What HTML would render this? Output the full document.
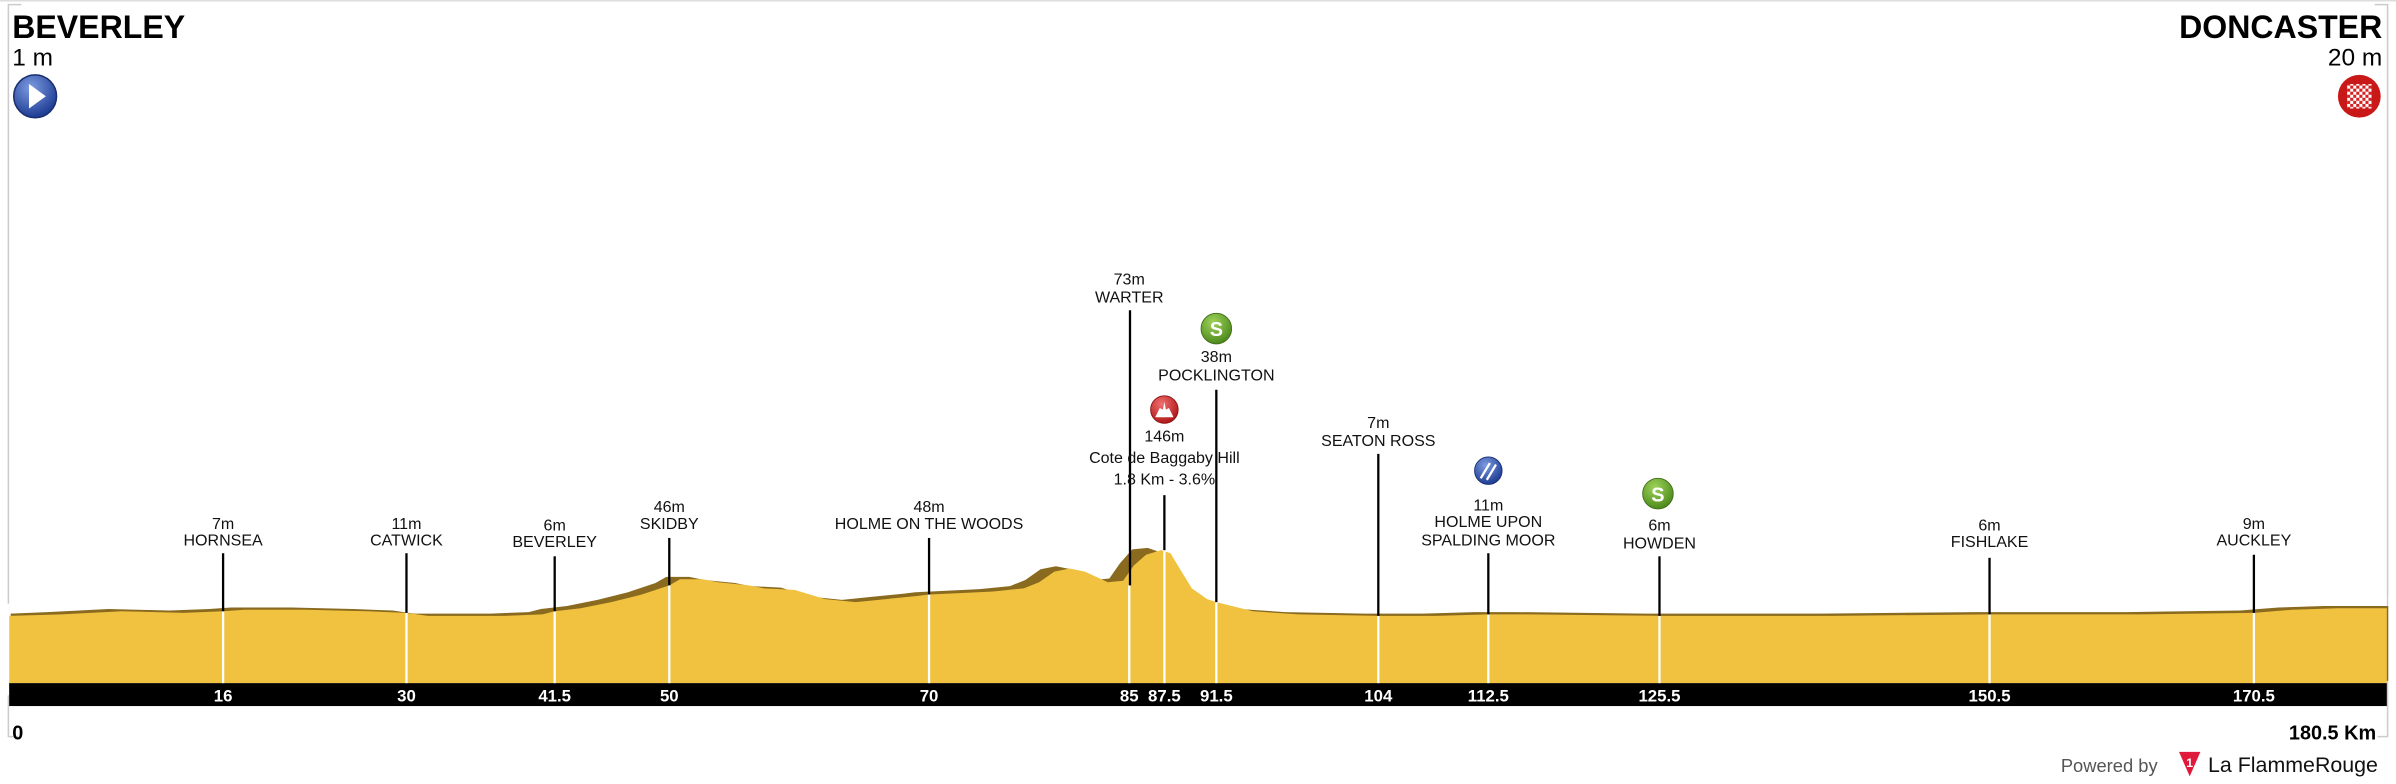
<!DOCTYPE html>
<html><head><meta charset="utf-8"><style>
html,body{margin:0;padding:0;background:#fff;}
svg{display:block;}
text{font-family:"Liberation Sans",sans-serif;}
</style></head><body>
<svg width="2396" height="784" viewBox="0 0 1568 513" preserveAspectRatio="none" xmlns="http://www.w3.org/2000/svg">
<defs>
<radialGradient id="gb" cx="40%" cy="30%" r="70%"><stop offset="0" stop-color="#7d9be0"/><stop offset="1" stop-color="#1d3c93"/></radialGradient>
<radialGradient id="gg" cx="40%" cy="30%" r="70%"><stop offset="0" stop-color="#9fd35a"/><stop offset="1" stop-color="#4d8a1c"/></radialGradient>
<radialGradient id="gr" cx="40%" cy="30%" r="70%"><stop offset="0" stop-color="#f07070"/><stop offset="1" stop-color="#b01818"/></radialGradient>
<pattern id="chk" width="4" height="4" patternUnits="userSpaceOnUse"><rect width="4" height="4" fill="#d42020"/><rect width="2" height="2" fill="#fff"/><rect x="2" y="2" width="2" height="2" fill="#fff"/></pattern>
</defs>
<line x1="0" y1="0.5" x2="1568" y2="0.5" stroke="#ddd" stroke-width="1"/>
<polyline points="14,3 5.5,3 5.5,482 12,482" fill="none" stroke="#ccc" stroke-width="1"/>
<polyline points="1554,3 1562.5,3 1562.5,482 1556,482" fill="none" stroke="#ccc" stroke-width="1"/>
<text x="8" y="25" font-size="21" font-weight="bold">BEVERLEY</text>
<text x="8" y="43" font-size="16">1 m</text>
<circle cx="23" cy="63" r="14" fill="url(#gb)" stroke="#1a2f70" stroke-width="1"/>
<polygon points="19,55 30,63 19,71" fill="#fff"/>
<text x="1559" y="25" font-size="21" font-weight="bold" text-anchor="end">DONCASTER</text>
<text x="1559" y="43" font-size="16" text-anchor="end">20 m</text>
<circle cx="1544" cy="63" r="14" fill="#c81818"/>
<rect x="1536" y="55" width="16" height="16" fill="url(#chk)"/>
<g id="prof">
<polygon transform="translate(-9,-1.5)" fill="#8a6a1e" points="16,403 40,402 80,400 120,401 146,400 160,399 200,399 240,400 266,401 280,403 330,403 355,402 363,400 380,398 400,394 420,389 438,383 445,379 460,379 470,381 490,383 500,385 520,386 540,392 560,394 580,392 600,390 608,389 630,388 650,387 670,385 680,381 690,374 700,372 710,374 725,381 735,380 742,370 750,361 760,360 766,362 772,372 780,385 790,392 796,394 820,400 850,402 902,403 940,403 974,402 1000,402 1086,403 1200,403 1302,402 1400,402 1475,401 1500,399 1530,398 1572,398 1572,447 16,447"/>
<polygon fill="#f0c240" points="6,403 40,402 80,400 120,401 146,400 160,399 200,399 240,400 266,401 280,403 330,403 355,402 363,400 380,398 400,394 420,389 438,383 445,379 460,379 470,381 490,383 500,385 520,386 540,392 560,394 580,392 600,390 608,389 630,388 650,387 670,385 680,381 690,374 700,372 710,374 725,381 735,380 742,370 750,363 760,360 766,362 772,372 780,385 790,392 796,394 820,400 850,402 902,403 940,403 974,402 1000,402 1086,403 1200,403 1302,402 1400,402 1475,401 1500,399 1530,398 1562,398 1562,447 6,447"/>
</g>
<rect x="0" y="395" width="6" height="60" fill="#fff"/>
<rect x="1563" y="390" width="6" height="60" fill="#fff"/>
<rect x="6" y="447" width="1556" height="15" fill="#000"/>
<g fill="#fff" font-size="11" font-weight="bold" text-anchor="middle">
<text x="146" y="459">16</text><text x="266" y="459">30</text><text x="363" y="459">41.5</text><text x="438" y="459">50</text><text x="608" y="459">70</text><text x="739" y="459">85</text><text x="762" y="459">87.5</text><text x="796" y="459">91.5</text><text x="902" y="459">104</text><text x="974" y="459">112.5</text><text x="1086" y="459">125.5</text><text x="1302" y="459">150.5</text><text x="1475" y="459">170.5</text>
</g>
<text x="8" y="484" font-size="13" font-weight="bold">0</text>
<text x="1555" y="484" font-size="13" font-weight="bold" text-anchor="end">180.5 Km</text>
<text x="1412" y="505" font-size="12" fill="#555" text-anchor="end">Powered by</text>
<polygon points="1426,492 1440,492 1433,508" fill="#e0183c"/>
<text x="1433" y="502" font-size="8" font-weight="bold" fill="#fff" text-anchor="middle">1</text>
<text x="1445" y="505" font-size="14" fill="#111">La FlammeRouge</text>
<g stroke="#fff" stroke-width="1.5">
<line x1="146" y1="400" x2="146" y2="447"/><line x1="266" y1="401" x2="266" y2="447"/><line x1="363" y1="400" x2="363" y2="447"/><line x1="438" y1="383" x2="438" y2="447"/><line x1="608" y1="389" x2="608" y2="447"/><line x1="739" y1="383" x2="739" y2="447"/><line x1="762" y1="360" x2="762" y2="447"/><line x1="796" y1="394" x2="796" y2="447"/><line x1="902" y1="403" x2="902" y2="447"/><line x1="974" y1="402" x2="974" y2="447"/><line x1="1086" y1="403" x2="1086" y2="447"/><line x1="1302" y1="402" x2="1302" y2="447"/><line x1="1475" y1="401" x2="1475" y2="447"/>
</g>
<g stroke="#000" stroke-width="1.5">
<line x1="146" y1="362" x2="146" y2="400"/><line x1="266" y1="362" x2="266" y2="401"/><line x1="363" y1="364" x2="363" y2="400"/><line x1="438" y1="352" x2="438" y2="383"/><line x1="608" y1="352" x2="608" y2="389"/><line x1="739.5" y1="203" x2="739.5" y2="383"/><line x1="762" y1="324" x2="762" y2="360"/><line x1="796" y1="255" x2="796" y2="394"/><line x1="902" y1="297" x2="902" y2="403"/><line x1="974" y1="362" x2="974" y2="402"/><line x1="1086" y1="364" x2="1086" y2="403"/><line x1="1302" y1="365" x2="1302" y2="402"/><line x1="1475" y1="363" x2="1475" y2="401"/>
</g>
<g font-size="10.5" text-anchor="middle" fill="#111">
<text x="146" y="346">7m</text><text x="146" y="357">HORNSEA</text>
<text x="266" y="346">11m</text><text x="266" y="357">CATWICK</text>
<text x="363" y="347">6m</text><text x="363" y="358">BEVERLEY</text>
<text x="438" y="335">46m</text><text x="438" y="346">SKIDBY</text>
<text x="608" y="335">48m</text><text x="608" y="346">HOLME ON THE WOODS</text>
<text x="739" y="186">73m</text><text x="739" y="198">WARTER</text>
<text x="762" y="289">146m</text><text x="762" y="303">Cote de Baggaby Hill</text><text x="762" y="317">1.8 Km - 3.6%</text>
<text x="796" y="237">38m</text><text x="796" y="249">POCKLINGTON</text>
<text x="902" y="280">7m</text><text x="902" y="292">SEATON ROSS</text>
<text x="974" y="334">11m</text><text x="974" y="345">HOLME UPON</text><text x="974" y="357">SPALDING MOOR</text>
<text x="1086" y="347">6m</text><text x="1086" y="359">HOWDEN</text>
<text x="1302" y="347">6m</text><text x="1302" y="358">FISHLAKE</text>
<text x="1475" y="346">9m</text><text x="1475" y="357">AUCKLEY</text>
</g>
<circle cx="796" cy="215" r="10" fill="url(#gg)" stroke="#3f6e18" stroke-width="0.6"/>
<text x="796" y="220" font-size="13" font-weight="bold" fill="#fff" text-anchor="middle">S</text>
<circle cx="1085" cy="323" r="10" fill="url(#gg)" stroke="#3f6e18" stroke-width="0.6"/>
<text x="1085" y="328" font-size="13" font-weight="bold" fill="#fff" text-anchor="middle">S</text>
<circle cx="762" cy="268" r="9" fill="url(#gr)" stroke="#8a1010" stroke-width="0.6"/>
<polygon points="756,273 759,267 761,268 762,263 763,268 765,267 768,273" fill="#fff"/>
<circle cx="974" cy="308" r="9" fill="url(#gb)" stroke="#1a2f70" stroke-width="0.6"/>
<g stroke="#fff" stroke-width="1.5"><line x1="969" y1="313" x2="975" y2="303"/><line x1="973" y1="314" x2="979" y2="304"/></g>
</svg>
</body></html>
